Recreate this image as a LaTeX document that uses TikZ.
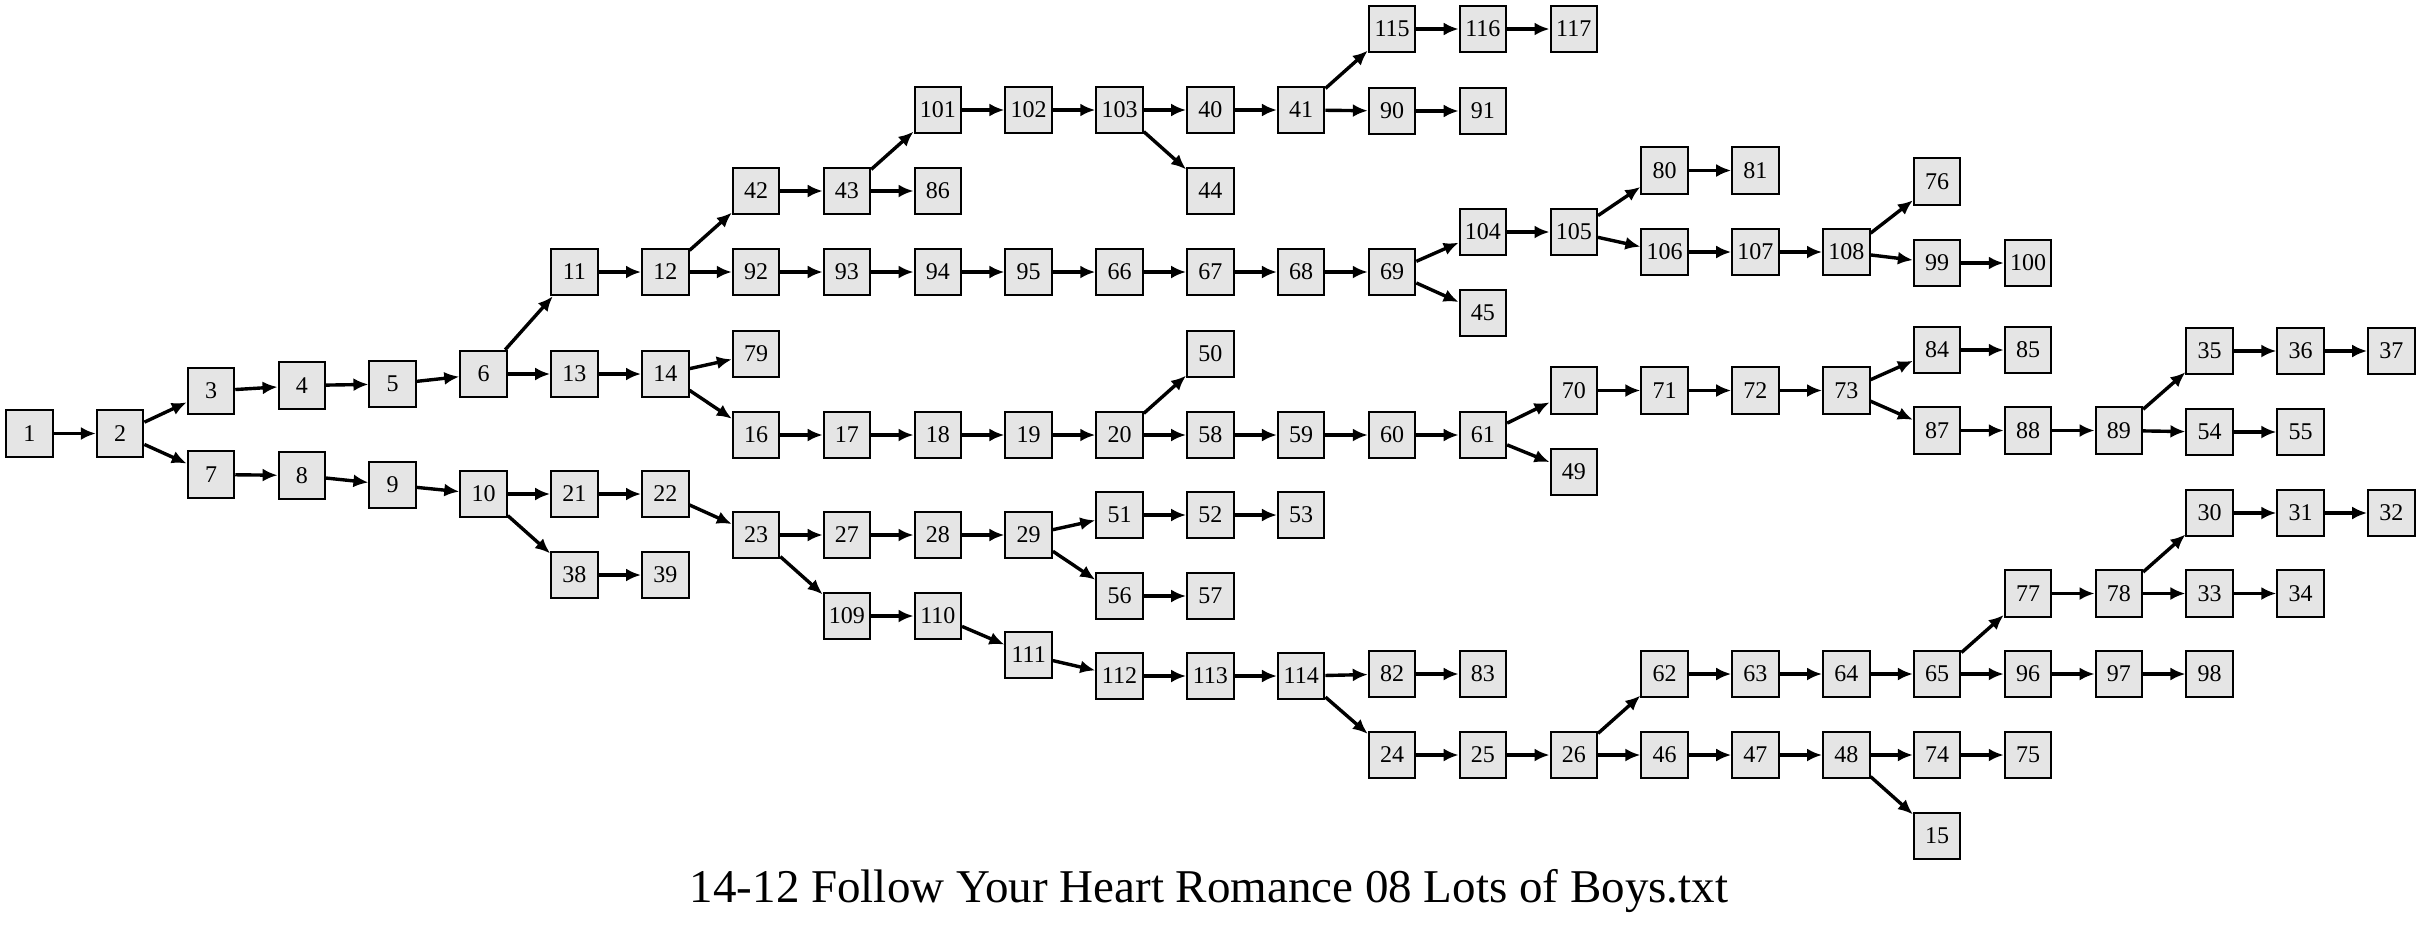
\documentclass[tikz,border=0pt]{standalone}
\usepackage{fontspec}
\setmainfont{Liberation Serif}
\usetikzlibrary{arrows.meta}
\definecolor{boxgray}{gray}{0.9}

\begin{document}
\begin{tikzpicture}[x=1pt, y=-1pt,
    box/.style={draw=black, fill=boxgray, line width=2pt, minimum width=46.5pt,
      minimum height=46.5pt, inner sep=0pt, font=\fontsize{24}{28}\selectfont},
    edge/.style={line width=3.4pt, -{Latex[length=15pt,width=13pt]}}]
    \useasboundingbox (0,0) rectangle (2416,927);
    % boxes: label/column/height
    \foreach \n/\c/\y in {1/0/433.5, 2/1/433.5, 3/2/391, 7/2/474.5, 4/3/385.5, 8/3/475.5,
      5/4/384, 9/4/485, 6/5/374, 10/5/494,
      11/6/272, 13/6/374, 21/6/494, 38/6/575, 12/7/272, 14/7/374, 22/7/494, 39/7/575,
      42/8/191, 92/8/272, 79/8/354, 16/8/435, 23/8/535,
      43/9/191, 93/9/272, 17/9/435, 27/9/535, 109/9/616,
      101/10/110, 86/10/191, 94/10/272, 18/10/435, 28/10/535, 110/10/616,
      102/11/110, 95/11/272, 19/11/435, 29/11/535, 111/11/655,
      103/12/110, 66/12/272, 20/12/435, 51/12/515, 56/12/596, 112/12/676,
      40/13/110, 44/13/191, 67/13/272, 50/13/354, 58/13/435, 52/13/515, 57/13/596, 113/13/676,
      41/14/110, 68/14/272, 59/14/435, 53/14/515, 114/14/676,
      115/15/29, 90/15/111, 69/15/272, 60/15/435, 82/15/674, 24/15/755,
      116/16/29, 91/16/111, 104/16/232, 45/16/313, 61/16/435, 83/16/674, 25/16/755,
      117/17/29, 105/17/232, 70/17/390.5, 49/17/472, 26/17/755,
      80/18/170.5, 106/18/252, 71/18/390.5, 62/18/674, 46/18/755,
      81/19/170.5, 107/19/252, 72/19/390.5, 63/19/674, 47/19/755,
      108/20/252, 73/20/390.5, 64/20/674, 48/20/755,
      76/21/181.5, 99/21/263, 84/21/350, 87/21/430.5, 65/21/674, 74/21/755, 15/21/836,
      100/22/263, 85/22/350, 88/22/430.5, 77/22/593.5, 96/22/674, 75/22/755,
      89/23/430.5, 78/23/593.5, 97/23/674,
      35/24/351, 54/24/432, 30/24/513, 33/24/593.5, 98/24/674,
      36/25/351, 55/25/432, 31/25/513, 34/25/593.5,
      37/26/351, 32/26/513}{%
      \node[box] (n\n) at ({29.3+90.85*\c},\y) {\n};
    }
    % connectors
    \foreach \a/\b in {1/2, 2/3, 2/7, 3/4, 4/5, 5/6, 6/11, 6/13, 11/12, 12/42, 12/92,
      42/43, 43/101, 43/86, 101/102, 102/103, 103/40, 103/44, 40/41, 41/115, 41/90,
      115/116, 116/117, 90/91, 92/93, 93/94, 94/95, 95/66, 66/67, 67/68, 68/69,
      69/104, 69/45, 104/105, 105/80, 105/106, 80/81, 106/107, 107/108, 108/76,
      108/99, 99/100, 13/14, 14/79, 14/16, 16/17, 17/18, 18/19, 19/20, 20/50, 20/58,
      58/59, 59/60, 60/61, 61/70, 61/49, 70/71, 71/72, 72/73, 73/84, 73/87, 84/85,
      87/88, 88/89, 89/35, 89/54, 35/36, 36/37, 54/55, 7/8, 8/9, 9/10, 10/21, 10/38,
      21/22, 22/23, 38/39, 23/27, 23/109, 27/28, 28/29, 29/51, 29/56, 51/52, 52/53,
      56/57, 109/110, 110/111, 111/112, 112/113, 113/114, 114/82, 114/24, 82/83,
      24/25, 25/26, 26/62, 26/46, 62/63, 63/64, 64/65, 65/77, 65/96, 77/78, 78/30,
      78/33, 30/31, 31/32, 33/34, 96/97, 97/98, 46/47, 47/48, 48/74, 48/15, 74/75}{%
      \draw[edge] (n\a) -- (n\b);
    }
    \node[anchor=base, font=\fontsize{47}{56}\selectfont] (title) at (1209,902)
      {14-12 Follow Your Heart Romance 08 Lots of Boys.txt};
\end{tikzpicture}
\end{document}
